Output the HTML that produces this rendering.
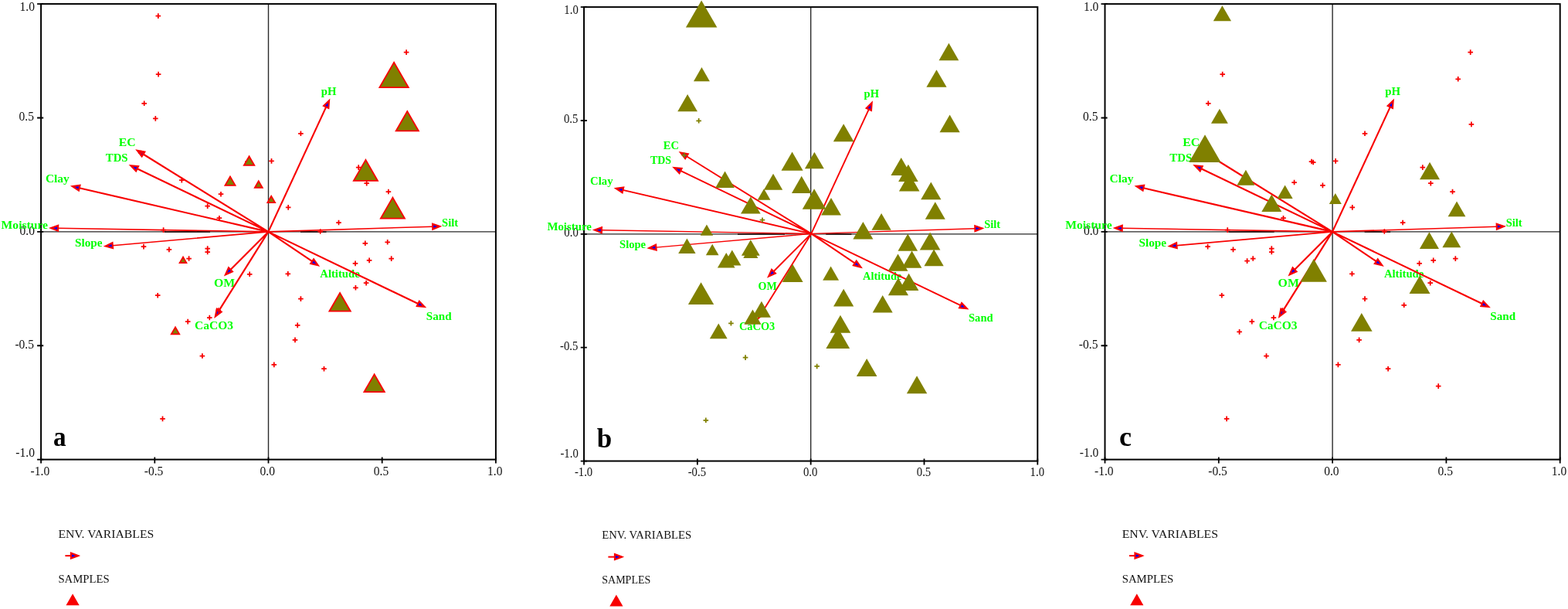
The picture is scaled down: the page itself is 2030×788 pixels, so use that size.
<!DOCTYPE html>
<html lang="en">
<head>
<meta charset="utf-8">
<title>Ordination biplots</title>
<style>
html,body{margin:0;padding:0;background:#fff;}
body{width:2030px;height:788px;overflow:hidden;}
svg{display:block;}
</style>
</head>
<body>
<svg width="2030" height="788" viewBox="0 0 2030 788" role="img" aria-label="Ordination biplots a, b and c">
<rect width="2030" height="788" fill="#fff"/>
<g id="panel-a">
<path d="M347.5 5.1V594.6M53.1 299.85H641.9" stroke="#2a2a2a" stroke-width="1.4" fill="none"/>
<rect x="53.1" y="5.1" width="588.8" height="589.5" fill="none" stroke="#000" stroke-width="2"/>
<g font-family="'Liberation Serif', 'DejaVu Serif', serif" font-size="16" fill="#111">
<text transform="translate(51.9 614.7) scale(0.97 1)" text-anchor="middle">-1.0</text>
<text transform="translate(44.9 590.6) scale(0.97 1)" text-anchor="end">-1.0</text>
<text transform="translate(199.1 614.7) scale(0.97 1)" text-anchor="middle">-0.5</text>
<text transform="translate(44 450.93) scale(0.97 1)" text-anchor="end">-0.5</text>
<text transform="translate(346.3 614.7) scale(0.97 1)" text-anchor="middle">0.0</text>
<text transform="translate(44.9 303.55) scale(0.97 1)" text-anchor="end">0.0</text>
<text transform="translate(493.5 614.7) scale(0.97 1)" text-anchor="middle">0.5</text>
<text transform="translate(44 156.18) scale(0.97 1)" text-anchor="end">0.5</text>
<text transform="translate(640.7 614.7) scale(0.97 1)" text-anchor="middle">1.0</text>
<text transform="translate(44.9 14.4) scale(0.97 1)" text-anchor="end">1.0</text>
</g>
<path d="M53.1 591.6v8.0M48.1 594.6h8.1M200.3 591.6v8.0M48.1 447.23h8.1M347.5 591.6v8.0M48.1 299.85h8.1M494.7 591.6v8.0M48.1 152.48h8.1M641.9 591.6v8.0M48.1 5.1h8.1" stroke="#000" stroke-width="1.8" fill="none"/>
<g font-family="'Liberation Serif', 'DejaVu Serif', serif" font-size="15.4" font-weight="bold" fill="#00ff00">
<text transform="translate(153.66 188.9) scale(1.0214 1)">EC</text>
<text transform="translate(136.72 208.7) scale(0.9665 1)">TDS</text>
<text transform="translate(58.93 235.5) scale(1.0021 1)">Clay</text>
<text transform="translate(1.61 295.6) scale(1.0152 1)">Moisture</text>
<text transform="translate(96.94 318.8) scale(0.9899 1)">Slope</text>
<text transform="translate(277.01 371.3) scale(1.0271 1)">OM</text>
<text transform="translate(252.03 425.6) scale(1.0058 1)">CaCO3</text>
<text transform="translate(415.71 123.3) scale(0.9644 1)">pH</text>
<text transform="translate(572.08 293) scale(0.9454 1)">Silt</text>
<text transform="translate(414.32 359) scale(0.9527 1)">Altitude</text>
<text transform="translate(551.75 413.7) scale(0.9833 1)">Sand</text>
</g>
<path d="M213 300H272M389 300H422.5" stroke="#1c0000" stroke-width="1.6" fill="none"/>
<path d="M347.4 299.9L185.46 199.51M347.4 299.9L177.55 218.23M347.4 299.9L102.7 243.22M347.4 299.9L298.4 348.9M347.4 299.9L283.66 401.67M347.4 299.9L422.22 138.42M347.4 299.9L404.18 338.21M347.4 299.9L541.34 392.98" stroke="#f80000" stroke-width="2.15" fill="none"/>
<path d="M347.4 299.9L75.1 295.3M347.4 299.9L145.76 317.68M347.4 299.9L560.21 293.17" stroke="#f80000" stroke-width="1.59" fill="none"/>
<polygon points="177.81,194.77 187.25,196.62 183.67,202.4" fill="#0000ff" stroke="#f80000" stroke-width="2.2" stroke-linejoin="miter"/>
<polygon points="169.44,214.33 179.03,215.16 176.08,221.29" fill="#0000ff" stroke="#f80000" stroke-width="2.2" stroke-linejoin="miter"/>
<polygon points="93.93,241.19 103.47,239.91 101.93,246.53" fill="#0000ff" stroke="#f80000" stroke-width="2.2" stroke-linejoin="miter"/>
<polygon points="66.1,295.14 75.16,291.9 75.04,298.7" fill="#0000ff" stroke="#f80000" stroke-width="2.2" stroke-linejoin="miter"/>
<polygon points="136.79,318.47 145.46,314.29 146.05,321.07" fill="#0000ff" stroke="#f80000" stroke-width="2.2" stroke-linejoin="miter"/>
<polygon points="292.04,355.26 296,346.49 300.81,351.3" fill="#0000ff" stroke="#f80000" stroke-width="2.2" stroke-linejoin="miter"/>
<polygon points="278.88,409.3 280.78,399.86 286.54,403.47" fill="#0000ff" stroke="#f80000" stroke-width="2.2" stroke-linejoin="miter"/>
<polygon points="426.01,130.26 425.31,139.85 419.14,137" fill="#0000ff" stroke="#f80000" stroke-width="2.2" stroke-linejoin="miter"/>
<polygon points="569.2,292.88 560.31,296.57 560.1,289.77" fill="#0000ff" stroke="#f80000" stroke-width="2.2" stroke-linejoin="miter"/>
<polygon points="411.64,343.25 402.28,341.03 406.09,335.39" fill="#0000ff" stroke="#f80000" stroke-width="2.2" stroke-linejoin="miter"/>
<polygon points="549.46,396.88 539.87,396.05 542.81,389.92" fill="#0000ff" stroke="#f80000" stroke-width="2.2" stroke-linejoin="miter"/>
<path d="M201.5 20.6h6.6M204.8 17.3v6.6" stroke="#f80000" stroke-width="1.75" fill="none"/>
<path d="M201.8 96.1h6.6M205.1 92.8v6.6" stroke="#f80000" stroke-width="1.75" fill="none"/>
<path d="M183.4 133.8h6.6M186.7 130.5v6.6" stroke="#f80000" stroke-width="1.75" fill="none"/>
<path d="M198 153.4h6.6M201.3 150.1v6.6" stroke="#f80000" stroke-width="1.75" fill="none"/>
<path d="M179.1 198.1h6.6M182.4 194.8v6.6" stroke="#f80000" stroke-width="1.75" fill="none"/>
<path d="M232 233.1h6.6M235.3 229.8v6.6" stroke="#f80000" stroke-width="1.75" fill="none"/>
<path d="M282.7 251.2h6.6M286 247.9v6.6" stroke="#f80000" stroke-width="1.75" fill="none"/>
<path d="M265.4 266.6h6.6M268.7 263.3v6.6" stroke="#f80000" stroke-width="1.75" fill="none"/>
<path d="M280.6 282.2h6.6M283.9 278.9v6.6" stroke="#f80000" stroke-width="1.75" fill="none"/>
<path d="M208.3 297.6h6.6M211.6 294.3v6.6" stroke="#f80000" stroke-width="1.75" fill="none"/>
<path d="M182.7 319.1h6.6M186 315.8v6.6" stroke="#f80000" stroke-width="1.75" fill="none"/>
<path d="M215.6 322.9h6.6M218.9 319.6v6.6" stroke="#f80000" stroke-width="1.75" fill="none"/>
<path d="M265.4 321.5h6.6M268.7 318.2v6.6" stroke="#f80000" stroke-width="1.75" fill="none"/>
<path d="M265.4 326h6.6M268.7 322.7v6.6" stroke="#f80000" stroke-width="1.75" fill="none"/>
<path d="M241.3 334.5h6.6M244.6 331.2v6.6" stroke="#f80000" stroke-width="1.75" fill="none"/>
<path d="M319.9 354.8h6.6M323.2 351.5v6.6" stroke="#f80000" stroke-width="1.75" fill="none"/>
<path d="M200.9 382.2h6.6M204.2 378.9v6.6" stroke="#f80000" stroke-width="1.75" fill="none"/>
<path d="M268 411h6.6M271.3 407.7v6.6" stroke="#f80000" stroke-width="1.75" fill="none"/>
<path d="M279.5 401.5h6.6M282.8 398.2v6.6" stroke="#f80000" stroke-width="1.75" fill="none"/>
<path d="M239.9 416.1h6.6M243.2 412.8v6.6" stroke="#f80000" stroke-width="1.75" fill="none"/>
<path d="M258.6 460.5h6.6M261.9 457.2v6.6" stroke="#f80000" stroke-width="1.75" fill="none"/>
<path d="M207.2 541.9h6.6M210.5 538.6v6.6" stroke="#f80000" stroke-width="1.75" fill="none"/>
<path d="M522.8 67.6h6.6M526.1 64.3v6.6" stroke="#f80000" stroke-width="1.75" fill="none"/>
<path d="M386.1 172.8h6.6M389.4 169.5v6.6" stroke="#f80000" stroke-width="1.75" fill="none"/>
<path d="M348.2 208.4h6.6M351.5 205.1v6.6" stroke="#f80000" stroke-width="1.75" fill="none"/>
<path d="M460.9 216.6h6.6M464.2 213.3v6.6" stroke="#f80000" stroke-width="1.75" fill="none"/>
<path d="M471.4 237.2h6.6M474.7 233.9v6.6" stroke="#f80000" stroke-width="1.75" fill="none"/>
<path d="M499.6 248h6.6M502.9 244.7v6.6" stroke="#f80000" stroke-width="1.75" fill="none"/>
<path d="M369.9 268.4h6.6M373.2 265.1v6.6" stroke="#f80000" stroke-width="1.75" fill="none"/>
<path d="M435.2 288h6.6M438.5 284.7v6.6" stroke="#f80000" stroke-width="1.75" fill="none"/>
<path d="M411.4 299.5h6.6M414.7 296.2v6.6" stroke="#f80000" stroke-width="1.75" fill="none"/>
<path d="M469.5 314.8h6.6M472.8 311.5v6.6" stroke="#f80000" stroke-width="1.75" fill="none"/>
<path d="M498.4 313.3h6.6M501.7 310v6.6" stroke="#f80000" stroke-width="1.75" fill="none"/>
<path d="M503.4 334.6h6.6M506.7 331.3v6.6" stroke="#f80000" stroke-width="1.75" fill="none"/>
<path d="M474.8 336.9h6.6M478.1 333.6v6.6" stroke="#f80000" stroke-width="1.75" fill="none"/>
<path d="M456.7 340.9h6.6M460 337.6v6.6" stroke="#f80000" stroke-width="1.75" fill="none"/>
<path d="M369.5 354.3h6.6M372.8 351v6.6" stroke="#f80000" stroke-width="1.75" fill="none"/>
<path d="M470.8 366.2h6.6M474.1 362.9v6.6" stroke="#f80000" stroke-width="1.75" fill="none"/>
<path d="M457.1 372.3h6.6M460.4 369v6.6" stroke="#f80000" stroke-width="1.75" fill="none"/>
<path d="M386.1 386.6h6.6M389.4 383.3v6.6" stroke="#f80000" stroke-width="1.75" fill="none"/>
<path d="M381.9 420.9h6.6M385.2 417.6v6.6" stroke="#f80000" stroke-width="1.75" fill="none"/>
<path d="M378.7 439.9h6.6M382 436.6v6.6" stroke="#f80000" stroke-width="1.75" fill="none"/>
<path d="M351.5 471.9h6.6M354.8 468.6v6.6" stroke="#f80000" stroke-width="1.75" fill="none"/>
<path d="M416.2 477.2h6.6M419.5 473.9v6.6" stroke="#f80000" stroke-width="1.75" fill="none"/>
<path d="M317.1 209h6.6M320.4 205.7v6.6" stroke="#f80000" stroke-width="1.75" fill="none"/>
<polygon points="510.1,80.71 491.4,113.1 528.8,113.1" fill="#808000" stroke="#f80000" stroke-width="1.8" stroke-linejoin="miter"/>
<polygon points="527.3,144.04 512.7,169.33 541.9,169.33" fill="#808000" stroke="#f80000" stroke-width="1.8" stroke-linejoin="miter"/>
<polygon points="473.4,206.84 457.85,233.78 488.95,233.78" fill="#808000" stroke="#f80000" stroke-width="1.8" stroke-linejoin="miter"/>
<polygon points="508.4,255.64 492.85,282.58 523.95,282.58" fill="#808000" stroke="#f80000" stroke-width="1.8" stroke-linejoin="miter"/>
<polygon points="440.1,378.98 426.4,402.71 453.8,402.71" fill="#808000" stroke="#f80000" stroke-width="1.8" stroke-linejoin="miter"/>
<polygon points="484.6,484.36 471.4,507.22 497.8,507.22" fill="#808000" stroke="#f80000" stroke-width="1.8" stroke-linejoin="miter"/>
<polygon points="322.6,202.26 315.9,213.87 329.3,213.87" fill="#808000" stroke="#f80000" stroke-width="1.8" stroke-linejoin="miter"/>
<polygon points="298,228.44 291.45,239.78 304.55,239.78" fill="#808000" stroke="#f80000" stroke-width="1.8" stroke-linejoin="miter"/>
<polygon points="334.8,234.18 329.85,242.76 339.75,242.76" fill="#808000" stroke="#f80000" stroke-width="1.8" stroke-linejoin="miter"/>
<polygon points="351.2,253.7 346.35,262.1 356.05,262.1" fill="#808000" stroke="#f80000" stroke-width="1.8" stroke-linejoin="miter"/>
<polygon points="237,332.58 232.65,340.11 241.35,340.11" fill="#808000" stroke="#f80000" stroke-width="1.8" stroke-linejoin="miter"/>
<polygon points="227,423.4 221.8,432.4 232.2,432.4" fill="#808000" stroke="#f80000" stroke-width="1.8" stroke-linejoin="miter"/>
<text transform="translate(68.91 576.5) scale(0.95 1)" font-family="'Liberation Serif', 'DejaVu Serif', serif" font-size="35" font-weight="bold" fill="#000">a</text>
</g>
<g id="panel-b">
<path d="M1049.67 9.15V596.55M756.05 302.85H1343.3" stroke="#2a2a2a" stroke-width="1.4" fill="none"/>
<rect x="756.05" y="9.15" width="587.25" height="587.4" fill="none" stroke="#000" stroke-width="2"/>
<g font-family="'Liberation Serif', 'DejaVu Serif', serif" font-size="16" fill="#111">
<text transform="translate(755.55 615.55) scale(0.92 1)" text-anchor="middle">-1.0</text>
<text transform="translate(748.75 591.95) scale(0.92 1)" text-anchor="end">-1.0</text>
<text transform="translate(902.36 615.55) scale(0.92 1)" text-anchor="middle">-0.5</text>
<text transform="translate(748.35 452.8) scale(0.92 1)" text-anchor="end">-0.5</text>
<text transform="translate(1049.17 615.55) scale(0.92 1)" text-anchor="middle">0.0</text>
<text transform="translate(748.75 305.95) scale(0.92 1)" text-anchor="end">0.0</text>
<text transform="translate(1195.99 615.55) scale(0.92 1)" text-anchor="middle">0.5</text>
<text transform="translate(748.35 159.1) scale(0.92 1)" text-anchor="end">0.5</text>
<text transform="translate(1342.8 615.55) scale(0.92 1)" text-anchor="middle">1.0</text>
<text transform="translate(748.75 17.85) scale(0.92 1)" text-anchor="end">1.0</text>
</g>
<path d="M756.05 593.55v8.0M751.75 596.55h8.1M902.86 593.55v8.0M751.75 449.7h8.1M1049.67 593.55v8.0M751.75 302.85h8.1M1196.49 593.55v8.0M751.75 156h8.1M1343.3 593.55v8.0M751.75 9.15h8.1" stroke="#000" stroke-width="1.8" fill="none"/>
<g font-family="'Liberation Serif', 'DejaVu Serif', serif" font-size="15.4" font-weight="bold" fill="#00ff00">
<text transform="translate(858.77 192.68) scale(0.9386 1)">EC</text>
<text transform="translate(841.91 212.43) scale(0.9078 1)">TDS</text>
<text transform="translate(764.08 239.16) scale(0.9552 1)">Clay</text>
<text transform="translate(708.43 297.81) scale(0.9641 1)">Moisture</text>
<text transform="translate(802.06 321.1) scale(0.9466 1)">Slope</text>
<text transform="translate(981.56 375.07) scale(0.9165 1)">OM</text>
<text transform="translate(956.89 427.29) scale(0.9355 1)">CaCO3</text>
<text transform="translate(1118.56 125.94) scale(0.9445 1)">pH</text>
<text transform="translate(1274.26 295.42) scale(0.9360 1)">Silt</text>
<text transform="translate(1116.99 362.35) scale(0.9358 1)">Altitude</text>
<text transform="translate(1254.01 415.82) scale(0.9462 1)">Sand</text>
</g>
<path d="M955 303H1016M1069.3 303H1102.4" stroke="#1c0000" stroke-width="1.6" fill="none"/>
<path d="M1050.29 302.4L888.9 202.28M1050.29 302.4L881.02 220.95M1050.29 302.4L806.41 245.87M1050.29 302.4L1001.47 351.25M1050.29 302.4L986.77 403.89M1050.29 302.4L1124.86 141.36M1050.29 302.4L1106.86 340.6M1050.29 302.4L1243.58 395.23" stroke="#f80000" stroke-width="1.9" fill="none"/>
<path d="M1050.29 302.4L778.9 297.81M1050.29 302.4L849.33 320.13M1050.29 302.4L1262.38 295.69" stroke="#f80000" stroke-width="1.41" fill="none"/>
<polygon points="881.25,197.54 890.69,199.39 887.1,205.17" fill="#0000ff" stroke="#f80000" stroke-width="2.2" stroke-linejoin="miter"/>
<polygon points="872.91,217.04 882.49,217.88 879.54,224.01" fill="#0000ff" stroke="#f80000" stroke-width="2.2" stroke-linejoin="miter"/>
<polygon points="797.64,243.84 807.18,242.56 805.64,249.18" fill="#0000ff" stroke="#f80000" stroke-width="2.2" stroke-linejoin="miter"/>
<polygon points="769.9,297.66 778.95,294.41 778.84,301.21" fill="#0000ff" stroke="#f80000" stroke-width="2.2" stroke-linejoin="miter"/>
<polygon points="840.36,320.92 849.03,316.75 849.62,323.52" fill="#0000ff" stroke="#f80000" stroke-width="2.2" stroke-linejoin="miter"/>
<polygon points="995.11,357.62 999.07,348.85 1003.88,353.66" fill="#0000ff" stroke="#f80000" stroke-width="2.2" stroke-linejoin="miter"/>
<polygon points="981.99,411.52 983.88,402.08 989.65,405.69" fill="#0000ff" stroke="#f80000" stroke-width="2.2" stroke-linejoin="miter"/>
<polygon points="1128.64,133.19 1127.94,142.79 1121.77,139.93" fill="#0000ff" stroke="#f80000" stroke-width="2.2" stroke-linejoin="miter"/>
<polygon points="1271.37,295.4 1262.48,299.08 1262.27,292.29" fill="#0000ff" stroke="#f80000" stroke-width="2.2" stroke-linejoin="miter"/>
<polygon points="1114.32,345.63 1104.96,343.42 1108.76,337.78" fill="#0000ff" stroke="#f80000" stroke-width="2.2" stroke-linejoin="miter"/>
<polygon points="1251.69,399.13 1242.11,398.3 1245.05,392.17" fill="#0000ff" stroke="#f80000" stroke-width="2.2" stroke-linejoin="miter"/>
<path d="M901.36 156.27h6.6M904.66 152.97v6.6" stroke="#808000" stroke-width="1.75" fill="none"/>
<path d="M882.52 200.85h6.6M885.82 197.55v6.6" stroke="#808000" stroke-width="1.75" fill="none"/>
<path d="M983.69 284.74h6.6M986.99 281.44v6.6" stroke="#808000" stroke-width="1.75" fill="none"/>
<path d="M943.12 418.31h6.6M946.42 415.01v6.6" stroke="#808000" stroke-width="1.75" fill="none"/>
<path d="M961.76 462.6h6.6M965.06 459.3v6.6" stroke="#808000" stroke-width="1.75" fill="none"/>
<path d="M910.53 543.8h6.6M913.83 540.5v6.6" stroke="#808000" stroke-width="1.75" fill="none"/>
<path d="M1054.36 473.97h6.6M1057.66 470.67v6.6" stroke="#808000" stroke-width="1.75" fill="none"/>
<path d="M1020.07 211.73h6.6M1023.37 208.43v6.6" stroke="#808000" stroke-width="1.75" fill="none"/>
<polygon points="908.14,0.42 887.89,35.49 928.39,35.49" fill="#808000"/>
<polygon points="908.44,87.04 897.99,105.14 918.89,105.14" fill="#808000"/>
<polygon points="890.1,121.88 877.25,144.13 902.95,144.13" fill="#808000"/>
<polygon points="938.55,221.51 926.2,242.9 950.9,242.9" fill="#808000"/>
<polygon points="989.08,244.18 980.73,258.64 997.43,258.64" fill="#808000"/>
<polygon points="971.84,254.4 959.04,276.57 984.64,276.57" fill="#808000"/>
<polygon points="914.92,290.58 906.67,304.87 923.17,304.87" fill="#808000"/>
<polygon points="889.4,308.62 878.2,328.02 900.6,328.02" fill="#808000"/>
<polygon points="922.2,315.7 913.85,330.16 930.55,330.16" fill="#808000"/>
<polygon points="971.84,310.15 959.89,330.85 983.79,330.85" fill="#808000"/>
<polygon points="971.84,317.41 962.29,333.95 981.39,333.95" fill="#808000"/>
<polygon points="947.82,323.52 936.22,343.61 959.42,343.61" fill="#808000"/>
<polygon points="1026.17,341.63 1012.72,364.93 1039.62,364.93" fill="#808000"/>
<polygon points="907.55,365.27 890.9,394.11 924.2,394.11" fill="#808000"/>
<polygon points="974.43,400.41 963.33,419.63 985.53,419.63" fill="#808000"/>
<polygon points="985.9,389.83 973.85,410.7 997.95,410.7" fill="#808000"/>
<polygon points="1228.42,55.79 1215.52,78.13 1241.32,78.13" fill="#808000"/>
<polygon points="1092.15,160.26 1078.85,183.3 1105.45,183.3" fill="#808000"/>
<polygon points="1054.38,196.75 1041.93,218.32 1066.83,218.32" fill="#808000"/>
<polygon points="1166.71,203.95 1153.41,226.99 1180.01,226.99" fill="#808000"/>
<polygon points="1177.18,224.5 1163.88,247.54 1190.48,247.54" fill="#808000"/>
<polygon points="1205.29,235.5 1192.19,258.19 1218.39,258.19" fill="#808000"/>
<polygon points="1076.01,256.03 1063.06,278.46 1088.96,278.46" fill="#808000"/>
<polygon points="1141.1,275.92 1128.45,297.83 1153.75,297.83" fill="#808000"/>
<polygon points="1117.37,286.99 1104.37,309.51 1130.37,309.51" fill="#808000"/>
<polygon points="1175.29,302.48 1162.49,324.65 1188.09,324.65" fill="#808000"/>
<polygon points="1204.09,300.41 1190.79,323.45 1217.39,323.45" fill="#808000"/>
<polygon points="1209.08,322.41 1196.43,344.32 1221.73,344.32" fill="#808000"/>
<polygon points="1180.57,324.53 1167.77,346.7 1193.37,346.7" fill="#808000"/>
<polygon points="1162.53,328.4 1149.63,350.75 1175.43,350.75" fill="#808000"/>
<polygon points="1075.61,344.6 1065.16,362.7 1086.06,362.7" fill="#808000"/>
<polygon points="1176.58,353.75 1163.78,375.92 1189.38,375.92" fill="#808000"/>
<polygon points="1162.93,359.49 1149.83,382.18 1176.03,382.18" fill="#808000"/>
<polygon points="1092.15,373.76 1079.05,396.45 1105.25,396.45" fill="#808000"/>
<polygon points="1087.97,407.74 1074.67,430.78 1101.27,430.78" fill="#808000"/>
<polygon points="1084.78,424.27 1069.38,450.94 1100.18,450.94" fill="#808000"/>
<polygon points="1122.16,463.9 1108.86,486.94 1135.46,486.94" fill="#808000"/>
<polygon points="1212.47,90.17 1199.37,112.86 1225.57,112.86" fill="#808000"/>
<polygon points="1229.61,148.62 1216.51,171.31 1242.71,171.31" fill="#808000"/>
<polygon points="1175.89,212.71 1163.09,234.88 1188.69,234.88" fill="#808000"/>
<polygon points="1210.77,261.15 1197.77,283.67 1223.77,283.67" fill="#808000"/>
<polygon points="1142.69,382.05 1129.69,404.57 1155.69,404.57" fill="#808000"/>
<polygon points="1187.05,486.36 1173.85,509.22 1200.25,509.22" fill="#808000"/>
<polygon points="1025.57,196.5 1011.52,220.84 1039.62,220.84" fill="#808000"/>
<polygon points="1001.05,224.63 988.9,245.67 1013.2,245.67" fill="#808000"/>
<polygon points="1037.73,227.83 1024.98,249.91 1050.48,249.91" fill="#808000"/>
<polygon points="1054.08,244.23 1038.78,270.74 1069.38,270.74" fill="#808000"/>
<polygon points="940.24,326.96 928.94,346.53 951.54,346.53" fill="#808000"/>
<polygon points="930.27,418.41 918.87,438.16 941.67,438.16" fill="#808000"/>
<text transform="translate(772.76 578.8) scale(1 1)" font-family="'Liberation Serif', 'DejaVu Serif', serif" font-size="35" font-weight="bold" fill="#000">b</text>
</g>
<g id="panel-c">
<path d="M1725.1 5.15V594.6M1430.5 299.88H2019.7" stroke="#2a2a2a" stroke-width="1.4" fill="none"/>
<rect x="1430.5" y="5.15" width="589.2" height="589.45" fill="none" stroke="#000" stroke-width="2"/>
<g font-family="'Liberation Serif', 'DejaVu Serif', serif" font-size="16" fill="#111">
<text transform="translate(1429.3 614.7) scale(0.97 1)" text-anchor="middle">-1.0</text>
<text transform="translate(1422.3 590.6) scale(0.97 1)" text-anchor="end">-1.0</text>
<text transform="translate(1576.6 614.7) scale(0.97 1)" text-anchor="middle">-0.5</text>
<text transform="translate(1421.4 450.94) scale(0.97 1)" text-anchor="end">-0.5</text>
<text transform="translate(1723.9 614.7) scale(0.97 1)" text-anchor="middle">0.0</text>
<text transform="translate(1422.3 303.57) scale(0.97 1)" text-anchor="end">0.0</text>
<text transform="translate(1871.2 614.7) scale(0.97 1)" text-anchor="middle">0.5</text>
<text transform="translate(1421.4 156.21) scale(0.97 1)" text-anchor="end">0.5</text>
<text transform="translate(2018.5 614.7) scale(0.97 1)" text-anchor="middle">1.0</text>
<text transform="translate(1422.3 14.45) scale(0.97 1)" text-anchor="end">1.0</text>
</g>
<path d="M1430.5 591.6v8.0M1425.5 594.6h8.1M1577.8 591.6v8.0M1425.5 447.24h8.1M1725.1 591.6v8.0M1425.5 299.88h8.1M1872.4 591.6v8.0M1425.5 152.51h8.1M2019.7 591.6v8.0M1425.5 5.15h8.1" stroke="#000" stroke-width="1.8" fill="none"/>
<g font-family="'Liberation Serif', 'DejaVu Serif', serif" font-size="15.4" font-weight="bold" fill="#00ff00">
<text transform="translate(1531.26 188.9) scale(1.0214 1)">EC</text>
<text transform="translate(1514.32 208.7) scale(0.9665 1)">TDS</text>
<text transform="translate(1436.53 235.5) scale(1.0021 1)">Clay</text>
<text transform="translate(1379.21 295.6) scale(1.0152 1)">Moisture</text>
<text transform="translate(1474.54 318.8) scale(0.9899 1)">Slope</text>
<text transform="translate(1654.61 371.3) scale(1.0271 1)">OM</text>
<text transform="translate(1629.63 425.6) scale(1.0058 1)">CaCO3</text>
<text transform="translate(1793.31 123.3) scale(0.9644 1)">pH</text>
<text transform="translate(1949.68 293) scale(0.9454 1)">Silt</text>
<text transform="translate(1791.92 359) scale(0.9527 1)">Altitude</text>
<text transform="translate(1929.35 413.7) scale(0.9833 1)">Sand</text>
</g>
<path d="M1590.6 300.02H1649.6M1766.6 300.02H1800.1" stroke="#1c0000" stroke-width="1.6" fill="none"/>
<path d="M1725 299.9L1563.06 199.51M1725 299.9L1555.15 218.23M1725 299.9L1480.3 243.22M1725 299.9L1676 348.9M1725 299.9L1661.26 401.67M1725 299.9L1799.82 138.42M1725 299.9L1781.78 338.21M1725 299.9L1918.94 392.98" stroke="#f80000" stroke-width="2.15" fill="none"/>
<path d="M1725 299.9L1452.7 295.3M1725 299.9L1523.36 317.68M1725 299.9L1937.81 293.17" stroke="#f80000" stroke-width="1.59" fill="none"/>
<polygon points="1555.41,194.77 1564.85,196.62 1561.27,202.4" fill="#0000ff" stroke="#f80000" stroke-width="2.2" stroke-linejoin="miter"/>
<polygon points="1547.04,214.33 1556.63,215.16 1553.68,221.29" fill="#0000ff" stroke="#f80000" stroke-width="2.2" stroke-linejoin="miter"/>
<polygon points="1471.53,241.19 1481.07,239.91 1479.53,246.53" fill="#0000ff" stroke="#f80000" stroke-width="2.2" stroke-linejoin="miter"/>
<polygon points="1443.7,295.14 1452.76,291.9 1452.64,298.7" fill="#0000ff" stroke="#f80000" stroke-width="2.2" stroke-linejoin="miter"/>
<polygon points="1514.39,318.47 1523.06,314.29 1523.65,321.07" fill="#0000ff" stroke="#f80000" stroke-width="2.2" stroke-linejoin="miter"/>
<polygon points="1669.64,355.26 1673.6,346.49 1678.41,351.3" fill="#0000ff" stroke="#f80000" stroke-width="2.2" stroke-linejoin="miter"/>
<polygon points="1656.48,409.3 1658.38,399.86 1664.14,403.47" fill="#0000ff" stroke="#f80000" stroke-width="2.2" stroke-linejoin="miter"/>
<polygon points="1803.61,130.26 1802.91,139.85 1796.74,137" fill="#0000ff" stroke="#f80000" stroke-width="2.2" stroke-linejoin="miter"/>
<polygon points="1946.8,292.88 1937.91,296.57 1937.7,289.77" fill="#0000ff" stroke="#f80000" stroke-width="2.2" stroke-linejoin="miter"/>
<polygon points="1789.24,343.25 1779.88,341.03 1783.69,335.39" fill="#0000ff" stroke="#f80000" stroke-width="2.2" stroke-linejoin="miter"/>
<polygon points="1927.06,396.88 1917.47,396.05 1920.41,389.92" fill="#0000ff" stroke="#f80000" stroke-width="2.2" stroke-linejoin="miter"/>
<path d="M1579.4 96.1h6.6M1582.7 92.8v6.6" stroke="#f80000" stroke-width="1.75" fill="none"/>
<path d="M1561 133.8h6.6M1564.3 130.5v6.6" stroke="#f80000" stroke-width="1.75" fill="none"/>
<path d="M1658.2 282.2h6.6M1661.5 278.9v6.6" stroke="#f80000" stroke-width="1.75" fill="none"/>
<path d="M1585.9 297.6h6.6M1589.2 294.3v6.6" stroke="#f80000" stroke-width="1.75" fill="none"/>
<path d="M1560.3 319.1h6.6M1563.6 315.8v6.6" stroke="#f80000" stroke-width="1.75" fill="none"/>
<path d="M1593.2 322.9h6.6M1596.5 319.6v6.6" stroke="#f80000" stroke-width="1.75" fill="none"/>
<path d="M1643 321.5h6.6M1646.3 318.2v6.6" stroke="#f80000" stroke-width="1.75" fill="none"/>
<path d="M1643 326h6.6M1646.3 322.7v6.6" stroke="#f80000" stroke-width="1.75" fill="none"/>
<path d="M1618.9 334.5h6.6M1622.2 331.2v6.6" stroke="#f80000" stroke-width="1.75" fill="none"/>
<path d="M1578.5 382.2h6.6M1581.8 378.9v6.6" stroke="#f80000" stroke-width="1.75" fill="none"/>
<path d="M1645.6 411h6.6M1648.9 407.7v6.6" stroke="#f80000" stroke-width="1.75" fill="none"/>
<path d="M1657.1 401.5h6.6M1660.4 398.2v6.6" stroke="#f80000" stroke-width="1.75" fill="none"/>
<path d="M1617.5 416.1h6.6M1620.8 412.8v6.6" stroke="#f80000" stroke-width="1.75" fill="none"/>
<path d="M1636.2 460.5h6.6M1639.5 457.2v6.6" stroke="#f80000" stroke-width="1.75" fill="none"/>
<path d="M1584.8 541.9h6.6M1588.1 538.6v6.6" stroke="#f80000" stroke-width="1.75" fill="none"/>
<path d="M1900.4 67.6h6.6M1903.7 64.3v6.6" stroke="#f80000" stroke-width="1.75" fill="none"/>
<path d="M1763.7 172.8h6.6M1767 169.5v6.6" stroke="#f80000" stroke-width="1.75" fill="none"/>
<path d="M1725.8 208.4h6.6M1729.1 205.1v6.6" stroke="#f80000" stroke-width="1.75" fill="none"/>
<path d="M1838.5 216.6h6.6M1841.8 213.3v6.6" stroke="#f80000" stroke-width="1.75" fill="none"/>
<path d="M1849 237.2h6.6M1852.3 233.9v6.6" stroke="#f80000" stroke-width="1.75" fill="none"/>
<path d="M1877.2 248h6.6M1880.5 244.7v6.6" stroke="#f80000" stroke-width="1.75" fill="none"/>
<path d="M1747.5 268.4h6.6M1750.8 265.1v6.6" stroke="#f80000" stroke-width="1.75" fill="none"/>
<path d="M1812.8 288h6.6M1816.1 284.7v6.6" stroke="#f80000" stroke-width="1.75" fill="none"/>
<path d="M1789 299.5h6.6M1792.3 296.2v6.6" stroke="#f80000" stroke-width="1.75" fill="none"/>
<path d="M1881 334.6h6.6M1884.3 331.3v6.6" stroke="#f80000" stroke-width="1.75" fill="none"/>
<path d="M1852.4 336.9h6.6M1855.7 333.6v6.6" stroke="#f80000" stroke-width="1.75" fill="none"/>
<path d="M1834.3 340.9h6.6M1837.6 337.6v6.6" stroke="#f80000" stroke-width="1.75" fill="none"/>
<path d="M1747.1 354.3h6.6M1750.4 351v6.6" stroke="#f80000" stroke-width="1.75" fill="none"/>
<path d="M1848.4 366.2h6.6M1851.7 362.9v6.6" stroke="#f80000" stroke-width="1.75" fill="none"/>
<path d="M1763.7 386.6h6.6M1767 383.3v6.6" stroke="#f80000" stroke-width="1.75" fill="none"/>
<path d="M1756.3 439.9h6.6M1759.6 436.6v6.6" stroke="#f80000" stroke-width="1.75" fill="none"/>
<path d="M1729.1 471.9h6.6M1732.4 468.6v6.6" stroke="#f80000" stroke-width="1.75" fill="none"/>
<path d="M1793.8 477.2h6.6M1797.1 473.9v6.6" stroke="#f80000" stroke-width="1.75" fill="none"/>
<path d="M1884.4 102.3h6.6M1887.7 99v6.6" stroke="#f80000" stroke-width="1.75" fill="none"/>
<path d="M1901.6 160.9h6.6M1904.9 157.6v6.6" stroke="#f80000" stroke-width="1.75" fill="none"/>
<path d="M1814.4 394.8h6.6M1817.7 391.5v6.6" stroke="#f80000" stroke-width="1.75" fill="none"/>
<path d="M1858.9 499.6h6.6M1862.2 496.3v6.6" stroke="#f80000" stroke-width="1.75" fill="none"/>
<path d="M1694.7 209h6.6M1698 205.7v6.6" stroke="#f80000" stroke-width="1.75" fill="none"/>
<path d="M1696.9 210h6.6M1700.2 206.7v6.6" stroke="#f80000" stroke-width="1.75" fill="none"/>
<path d="M1672.3 236h6.6M1675.6 232.7v6.6" stroke="#f80000" stroke-width="1.75" fill="none"/>
<path d="M1709.1 239.9h6.6M1712.4 236.6v6.6" stroke="#f80000" stroke-width="1.75" fill="none"/>
<path d="M1611.3 337.6h6.6M1614.6 334.3v6.6" stroke="#f80000" stroke-width="1.75" fill="none"/>
<path d="M1601.3 429.4h6.6M1604.6 426.1v6.6" stroke="#f80000" stroke-width="1.75" fill="none"/>
<polygon points="1582.4,7.21 1570.8,27.3 1594,27.3" fill="#808000"/>
<polygon points="1578.9,140.76 1567.95,159.72 1589.85,159.72" fill="#808000"/>
<polygon points="1560,174.26 1539.35,210.02 1580.65,210.02" fill="#808000"/>
<polygon points="1612.9,219.82 1601.4,239.74 1624.4,239.74" fill="#808000"/>
<polygon points="1663.6,239.6 1653.55,257 1673.65,257" fill="#808000"/>
<polygon points="1646.3,251.59 1633.3,274.11 1659.3,274.11" fill="#808000"/>
<polygon points="1700.8,335.05 1683.7,364.67 1717.9,364.67" fill="#808000"/>
<polygon points="1850.4,300.31 1837.85,322.05 1862.95,322.05" fill="#808000"/>
<polygon points="1879.3,299.5 1867.35,320.2 1891.25,320.2" fill="#808000"/>
<polygon points="1838,356.71 1824.5,380.09 1851.5,380.09" fill="#808000"/>
<polygon points="1762.8,404.97 1749,428.87 1776.6,428.87" fill="#808000"/>
<polygon points="1851,209.79 1838,232.31 1864,232.31" fill="#808000"/>
<polygon points="1886,260.44 1874.6,280.18 1897.4,280.18" fill="#808000"/>
<polygon points="1728.8,250.06 1720.8,263.92 1736.8,263.92" fill="#808000"/>
<text transform="translate(1449.07 576.5) scale(1.03 1)" font-family="'Liberation Serif', 'DejaVu Serif', serif" font-size="35" font-weight="bold" fill="#000">c</text>
</g>
<g id="legend-a" font-family="'Liberation Serif', 'DejaVu Serif', serif" font-size="15" fill="#111">
<text x="75.4" y="695.7" textLength="123.8" lengthAdjust="spacingAndGlyphs">ENV. VARIABLES</text>
<text x="75.4" y="754.1" textLength="66.2" lengthAdjust="spacingAndGlyphs">SAMPLES</text>
<path d="M84.4 719.1L92 719.1" stroke="#f80000" stroke-width="2" fill="none"/>
<polygon points="101,719.1 92,722.5 92,715.7" fill="#0000ff" stroke="#f80000" stroke-width="2.2" stroke-linejoin="miter"/>
<polygon points="94.1,768.3 85.5,783.3 102.7,783.3" fill="#f80000"/>
</g>
<g id="legend-b" font-family="'Liberation Serif', 'DejaVu Serif', serif" font-size="15" fill="#111">
<text x="779.2" y="696.9" textLength="116" lengthAdjust="spacingAndGlyphs">ENV. VARIABLES</text>
<text x="779.2" y="755.3" textLength="63.2" lengthAdjust="spacingAndGlyphs">SAMPLES</text>
<path d="M787.4 720.6L796 720.6" stroke="#f80000" stroke-width="2" fill="none"/>
<polygon points="805,720.6 796,724 796,717.2" fill="#0000ff" stroke="#f80000" stroke-width="2.2" stroke-linejoin="miter"/>
<polygon points="797.9,769.5 789.3,784.5 806.5,784.5" fill="#f80000"/>
</g>
<g id="legend-c" font-family="'Liberation Serif', 'DejaVu Serif', serif" font-size="15" fill="#111">
<text x="1452.7" y="695.7" textLength="124.2" lengthAdjust="spacingAndGlyphs">ENV. VARIABLES</text>
<text x="1452.7" y="754.1" textLength="66.6" lengthAdjust="spacingAndGlyphs">SAMPLES</text>
<path d="M1462 719.1L1469.5 719.1" stroke="#f80000" stroke-width="2" fill="none"/>
<polygon points="1478.5,719.1 1469.5,722.5 1469.5,715.7" fill="#0000ff" stroke="#f80000" stroke-width="2.2" stroke-linejoin="miter"/>
<polygon points="1471.8,768.3 1463.2,783.3 1480.4,783.3" fill="#f80000"/>
</g>
</svg>
</body>
</html>
